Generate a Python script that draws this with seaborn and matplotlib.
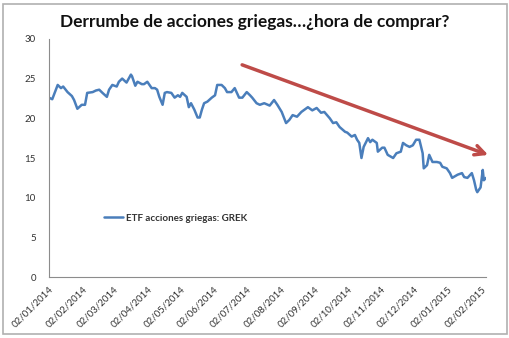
import matplotlib
matplotlib.use("Agg")
import matplotlib.pyplot as plt
import matplotlib.patches as mpatches
import pandas as pd
import seaborn as sns

title = "Derrumbe de acciones griegas…¿hora de comprar?"
series_name = "ETF acciones griegas: GREK"

dates = [
    "2014-01-02", "2014-01-05", "2014-01-10", "2014-01-13", "2014-01-15", "2014-01-19",
    "2014-01-23", "2014-01-25", "2014-01-28", "2014-02-01", "2014-02-04", "2014-02-06",
    "2014-02-11", "2014-02-14", "2014-02-17", "2014-02-20", "2014-02-24", "2014-02-26",
    "2014-03-01", "2014-03-05", "2014-03-07", "2014-03-10", "2014-03-14", "2014-03-18",
    "2014-03-19", "2014-03-22", "2014-03-24", "2014-03-28", "2014-03-30", "2014-04-02",
    "2014-04-06", "2014-04-09", "2014-04-11", "2014-04-13", "2014-04-16", "2014-04-18",
    "2014-04-20", "2014-04-24", "2014-04-27", "2014-04-30", "2014-05-02", "2014-05-04",
    "2014-05-08", "2014-05-10", "2014-05-12", "2014-05-15", "2014-05-18", "2014-05-20",
    "2014-05-22", "2014-05-24", "2014-05-27", "2014-05-31", "2014-06-03", "2014-06-05",
    "2014-06-09", "2014-06-12", "2014-06-14", "2014-06-18", "2014-06-21", "2014-06-23",
    "2014-06-25", "2014-06-28", "2014-07-02", "2014-07-05", "2014-07-07", "2014-07-11",
    "2014-07-14", "2014-07-18", "2014-07-23", "2014-07-27", "2014-07-30", "2014-08-03",
    "2014-08-07", "2014-08-10", "2014-08-13", "2014-08-17", "2014-08-21", "2014-08-27",
    "2014-08-31", "2014-09-04", "2014-09-08", "2014-09-11", "2014-09-16", "2014-09-19",
    "2014-09-22", "2014-09-25", "2014-09-30", "2014-10-02", "2014-10-06", "2014-10-09",
    "2014-10-11", "2014-10-13", "2014-10-15", "2014-10-17", "2014-10-21", "2014-10-23",
    "2014-10-25", "2014-10-29", "2014-10-30", "2014-11-03", "2014-11-05", "2014-11-08",
    "2014-11-13", "2014-11-16", "2014-11-20", "2014-11-22", "2014-11-25", "2014-11-28",
    "2014-12-01", "2014-12-04", "2014-12-07", "2014-12-10", "2014-12-11", "2014-12-14",
    "2014-12-16", "2014-12-19", "2014-12-23", "2014-12-26", "2014-12-28", "2015-01-01",
    "2015-01-04", "2015-01-06", "2015-01-11", "2015-01-15", "2015-01-17", "2015-01-20",
    "2015-01-24", "2015-01-26", "2015-01-28", "2015-01-29", "2015-02-01", "2015-02-03",
    "2015-02-04", "2015-02-06",
]
values = [
    22.6, 22.4, 24.2, 23.8, 24.0, 23.3,
    22.8, 22.3, 21.2, 21.7, 21.7, 23.2,
    23.3, 23.5, 23.6, 23.2, 22.7, 23.6,
    24.2, 24.0, 24.6, 25.0, 24.5, 25.5,
    25.3, 24.1, 24.6, 24.3, 24.3, 24.6,
    23.8, 23.8, 23.6, 22.7, 21.7, 23.2,
    23.3, 23.2, 22.6, 22.9, 22.7, 23.2,
    22.7, 21.4, 21.9, 21.1, 20.1, 20.1,
    21.1, 21.9, 22.1, 22.6, 22.9, 24.2,
    24.2, 23.8, 23.3, 23.3, 23.8, 23.2,
    22.6, 22.6, 23.3, 22.9, 22.6, 21.9,
    21.7, 21.9, 21.6, 22.3, 21.7, 20.8,
    19.4, 19.8, 20.4, 20.2, 20.8, 21.4,
    21.0, 21.3, 20.7, 20.8, 20.0, 19.4,
    19.5, 18.9, 18.3, 18.2, 17.7, 17.9,
    17.3, 16.9, 15.0, 16.4, 17.5, 17.0,
    17.3, 16.9, 15.8, 16.3, 16.3, 15.4,
    15.0, 15.6, 15.8, 16.9, 16.6, 16.4,
    16.6, 17.3, 17.3, 15.6, 13.7, 14.1,
    15.4, 14.5, 14.5, 14.4, 13.9, 13.7,
    13.1, 12.5, 12.9, 13.1, 12.6, 12.5,
    13.1, 12.2, 11.0, 10.7, 11.3, 13.5,
    12.2, 12.5,
]
tick_dates = ["2014-01-02", "2014-02-02", "2014-03-02", "2014-04-02", "2014-05-02",
              "2014-06-02", "2014-07-02", "2014-08-02", "2014-09-02", "2014-10-02",
              "2014-11-02", "2014-12-02", "2015-01-02", "2015-02-02"]
tick_labels = ["02/01/2014", "02/02/2014", "02/03/2014", "02/04/2014", "02/05/2014",
               "02/06/2014", "02/07/2014", "02/08/2014", "02/09/2014", "02/10/2014",
               "02/11/2014", "02/12/2014", "02/01/2015", "02/02/2015"]
y_ticks = [0, 5, 10, 15, 20, 25, 30]

df = pd.DataFrame({"fecha": pd.to_datetime(dates), "valor": values, "serie": series_name})

sns.set_style("white")
plt.rcParams["font.family"] = ["Lato", "DejaVu Sans"]

fig = plt.figure(figsize=(5.10, 3.38), dpi=100)
ax = fig.add_axes([0.096, 0.180, 0.857, 0.705])

sns.lineplot(data=df, x="fecha", y="valor", hue="serie", palette=["#4A7EBB"],
             linewidth=1.8, ax=ax)

ax.set_ylim(0, 30)
ax.set_yticks(y_ticks)
ax.set_xlim(pd.Timestamp("2014-01-02"), pd.Timestamp("2015-02-06"))
ax.set_xticks(pd.to_datetime(tick_dates))
ax.set_xticklabels(tick_labels, rotation=45, ha="right", rotation_mode="anchor")
ax.set_xlabel("")
ax.set_ylabel("")

for s in ["top", "right"]:
    ax.spines[s].set_visible(False)
for s in ["left", "bottom"]:
    ax.spines[s].set_color("#8c8c8c")
    ax.spines[s].set_linewidth(0.8)
ax.tick_params(axis="both", which="major", direction="out", length=3.5, width=0.8,
               color="#8c8c8c", labelsize=7, labelcolor="#333333", pad=2)
ax.tick_params(axis="y", pad=6)
ax.grid(False)

leg = ax.legend(loc="center left", bbox_to_anchor=(0.105, 0.248), frameon=False,
                fontsize=7, handlelength=2.0, handletextpad=0.3)
for t in leg.get_texts():
    t.set_fontweight("bold")
    t.set_color("#333333")

fig.text(0.5, 0.935, title, ha="center", va="center", fontsize=12.5, fontweight="bold",
         color="#111111")

ax.annotate("", xy=(1.005, 0.513), xytext=(0.442, 0.891), xycoords="axes fraction",
            textcoords="axes fraction",
            arrowprops=dict(arrowstyle="->,head_length=0.7,head_width=0.35",
                            color="#BE4B48", lw=2.5, shrinkA=0, shrinkB=0))

border = mpatches.Rectangle((0.006, 0.012), 0.988, 0.976, transform=fig.transFigure,
                            fill=False, edgecolor="#b0b0b0", linewidth=1.2)
fig.patches.append(border)

fig.savefig("out.png", dpi=100)
